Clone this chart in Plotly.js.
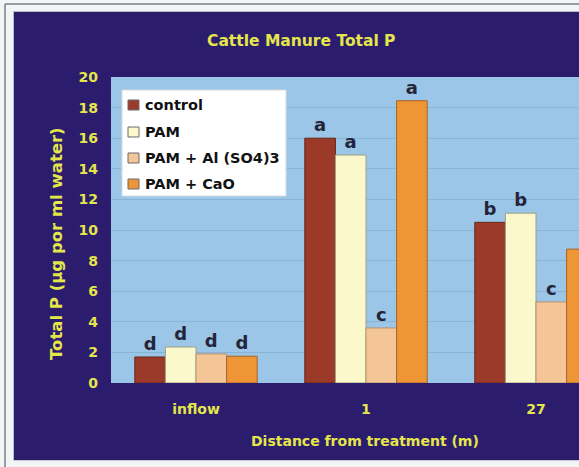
<!DOCTYPE html>
<html>
<head>
<meta charset="utf-8">
<script src="https://cdn.plot.ly/plotly-3.0.1.min.js"></script>
<style>html,body{margin:0;padding:0;background:#f3f4f6;}#chart{width:579px;height:467px;}</style>
</head>
<body>
<div id="chart"></div>
<script>
var categories = ['inflow', '1', '27'];
var seriesNames = ['control', 'PAM', 'PAM + Al (SO4)3', 'PAM + CaO'];
var controlVals = [1.7, 16.0, 10.5];
var pamVals = [2.35, 14.9, 11.1];
var alVals = [1.9, 3.6, 5.3];
var caoVals = [1.75, 18.45, 8.75];
var controlLetters = ['d', 'a', 'b'];
var pamLetters = ['d', 'a', 'b'];
var alLetters = ['d', 'c', 'c'];
var caoLetters = ['d', 'a', 'b'];
var yTickVals = [0, 2, 4, 6, 8, 10, 12, 14, 16, 18, 20];

var fills = ['#9c3a2a', '#fbf8cc', '#f3c597', '#ee9535'];
var outlines = ['#6a2618', '#a09f84', '#b8926c', '#a8632a'];
var values = [controlVals, pamVals, alVals, caoVals];
var letters = [controlLetters, pamLetters, alLetters, caoLetters];

var W = 579, H = 467, L = 111, R = 0, T = 77, B = 84;
var pw = W - L - R, ph = H - T - B;
function px(x) { return (x - L) / pw; }
function py(y) { return (H - B - y) / ph; }

var font = 'DejaVu Sans, Verdana, sans-serif';
var yellow = '#e4e64a';

var traces = values.map(function (v, i) {
  return {
    type: 'bar',
    name: seriesNames[i],
    x: categories,
    y: v,
    text: letters[i],
    textposition: 'outside',
    cliponaxis: false,
    textfont: {family: font, size: 18, color: '#25253a', weight: 'bold'},
    marker: {color: fills[i], line: {color: outlines[i], width: 1}},
    hoverinfo: 'x+y+name'
  };
});

var edge = '#f3f4f6';
var grayLine = '#9a9ca4';

var shapes = [
  {type: 'rect', xref: 'paper', yref: 'paper', x0: px(0), x1: px(W), y0: py(0), y1: py(12), fillcolor: edge, line: {width: 0}, layer: 'above'},
  {type: 'rect', xref: 'paper', yref: 'paper', x0: px(0), x1: px(14), y0: py(0), y1: py(H), fillcolor: edge, line: {width: 0}, layer: 'above'},
  {type: 'rect', xref: 'paper', yref: 'paper', x0: px(0), x1: px(W), y0: py(460), y1: py(H), fillcolor: edge, line: {width: 0}, layer: 'above'},
  {type: 'line', xref: 'paper', yref: 'paper', x0: px(5), x1: px(W), y0: py(4), y1: py(4), line: {color: grayLine, width: 2}, layer: 'above'},
  {type: 'line', xref: 'paper', yref: 'paper', x0: px(5), x1: px(5), y0: py(4), y1: py(H), line: {color: grayLine, width: 2}, layer: 'above'},
  {type: 'line', xref: 'paper', yref: 'paper', x0: px(13), x1: px(W), y0: py(11.5), y1: py(11.5), line: {color: '#b8bcc6', width: 1}, layer: 'above'},
  {type: 'line', xref: 'paper', yref: 'paper', x0: px(13.5), x1: px(13.5), y0: py(11.5), y1: py(460), line: {color: '#b8bcc6', width: 1}, layer: 'above'},
  {type: 'line', xref: 'paper', yref: 'paper', x0: px(13.5), x1: px(W), y0: py(460.5), y1: py(460.5), line: {color: '#c4c8d2', width: 1}, layer: 'above'},
  // legend box
  {type: 'rect', xref: 'paper', yref: 'paper', x0: px(122), x1: px(286), y0: py(90), y1: py(196), fillcolor: '#ffffff', line: {color: '#d6dbe2', width: 1}, layer: 'above'}
];

var annotations = [
  {text: 'Cattle Manure Total P', xref: 'paper', yref: 'paper', x: px(301), y: py(41),
   xanchor: 'center', yanchor: 'middle', showarrow: false,
   font: {family: font, size: 15.5, color: yellow, weight: 'bold'}},
  {text: 'Distance from treatment (m)', xref: 'paper', yref: 'paper', x: px(365), y: py(441),
   xanchor: 'center', yanchor: 'middle', showarrow: false,
   font: {family: font, size: 14, color: yellow, weight: 'bold'}},
  {text: 'Total P (μg por ml water)', xref: 'paper', yref: 'paper', x: px(56), y: py(244),
   xanchor: 'center', yanchor: 'middle', showarrow: false, textangle: -90,
   font: {family: font, size: 16.5, color: yellow, weight: 'bold'}}
];

// legend entries built from series names and fills
var legendRows = [105, 132, 158, 184];
seriesNames.forEach(function (name, i) {
  var cy = legendRows[i];
  shapes.push({type: 'rect', xref: 'paper', yref: 'paper', x0: px(128), x1: px(139), y0: py(cy - 5), y1: py(cy + 5),
               fillcolor: fills[i], line: {color: '#6a6a70', width: 1}, layer: 'above'});
  annotations.push({text: name, xref: 'paper', yref: 'paper', x: px(143), y: py(cy),
                    xanchor: 'left', yanchor: 'middle', showarrow: false,
                    font: {family: font, size: 14.5, color: '#111111', weight: 'bold'}});
});

var layout = {
  width: W, height: H,
  margin: {l: L, r: R, t: T, b: B, pad: 0},
  paper_bgcolor: '#2c1c6e',
  plot_bgcolor: '#9bc6e8',
  barmode: 'group',
  bargap: 0.28,
  bargroupgap: 0,
  showlegend: false,
  xaxis: {
    type: 'category',
    range: [-0.5, 2.253],
    showgrid: false, zeroline: false, showline: false,
    ticks: '',
    ticklabelstandoff: 16,
    tickfont: {family: font, size: 14, color: yellow, weight: 'bold'},
    fixedrange: true
  },
  yaxis: {
    range: [0, 20],
    tickvals: yTickVals,
    showgrid: true, gridcolor: '#88b4d8', gridwidth: 1,
    zeroline: false, showline: false,
    ticks: '',
    ticklabelstandoff: 12,
    tickfont: {family: font, size: 14, color: yellow, weight: 'bold'},
    fixedrange: true
  },
  annotations: annotations,
  shapes: shapes
};

Plotly.newPlot('chart', traces, layout, {displayModeBar: false, staticPlot: true});
</script>
</body>
</html>
